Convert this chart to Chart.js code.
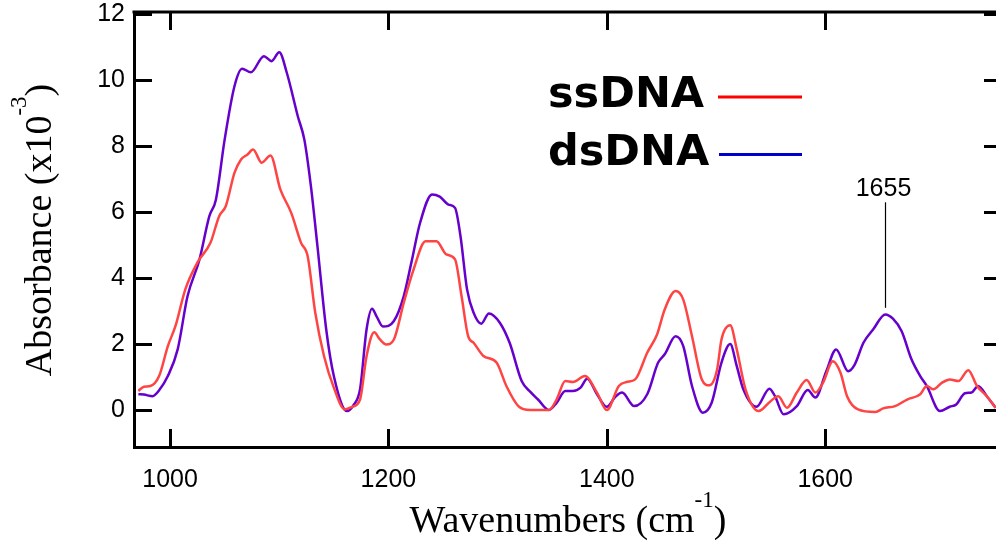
<!DOCTYPE html>
<html>
<head>
<meta charset="utf-8">
<script src="https://cdn.jsdelivr.net/npm/chart.js@4/dist/chart.umd.min.js"></script>
<style>
  html, body { margin: 0; padding: 0; background: #fff; }
  #wrap { width: 996px; height: 542px; position: relative; }
</style>
</head>
<body>
<div id="wrap"><canvas id="grafico" width="996" height="542"></canvas></div>
<script>
const ssWaven = [971, 976, 982, 990, 998, 1005, 1014, 1025, 1037, 1045, 1051, 1059, 1065, 1071, 1076, 1084, 1092, 1101, 1111, 1120, 1126, 1133, 1141, 1150, 1160, 1167, 1174, 1180, 1187, 1192, 1198, 1205, 1214, 1223, 1234, 1244, 1253, 1261, 1267, 1273, 1278, 1287, 1299, 1308, 1319, 1330, 1347, 1354, 1362, 1369, 1380, 1391, 1400, 1411, 1418, 1426, 1437, 1446, 1453, 1463, 1470, 1478, 1487, 1494, 1501, 1505, 1513, 1519, 1527, 1539, 1550, 1557, 1565, 1574, 1583, 1591, 1598, 1607, 1614, 1620, 1630, 1646, 1653, 1664, 1675, 1687, 1693, 1699, 1707, 1714, 1722, 1731, 1739, 1748, 1756];
const ssAbs   = [0.58, 0.71, 0.73, 1.03, 1.94, 2.55, 3.66, 4.47, 5.07, 5.88, 6.18, 7.19, 7.60, 7.75, 7.90, 7.50, 7.72, 6.69, 5.98, 5.07, 4.67, 2.95, 1.64, 0.68, 0.02, 0.10, 0.32, 1.64, 2.36, 2.15, 1.99, 2.14, 3.25, 4.26, 5.12, 5.12, 4.72, 4.57, 3.45, 2.24, 2.04, 1.64, 1.44, 0.73, 0.12, 0.0, 0.0, 0.32, 0.88, 0.85, 1.03, 0.53, 0.0, 0.73, 0.85, 0.93, 1.74, 2.29, 3.05, 3.61, 3.35, 2.24, 0.93, 0.75, 1.23, 2.14, 2.57, 1.84, 0.63, -0.03, 0.27, 0.42, 0.07, 0.53, 0.91, 0.53, 0.83, 1.48, 1.13, 0.42, 0.02, -0.06, 0.05, 0.12, 0.32, 0.48, 0.73, 0.63, 0.83, 0.93, 0.88, 1.21, 0.73, 0.42, 0.07];

const dsWaven = [971, 976, 984, 990, 998, 1007, 1016, 1027, 1036, 1042, 1050, 1059, 1066, 1074, 1086, 1093, 1100, 1107, 1117, 1123, 1129, 1135, 1143, 1150, 1162, 1168, 1174, 1180, 1185, 1189, 1195, 1205, 1214, 1221, 1229, 1240, 1247, 1255, 1261, 1266, 1272, 1278, 1285, 1292, 1302, 1311, 1322, 1330, 1337, 1347, 1354, 1362, 1369, 1376, 1382, 1391, 1400, 1408, 1414, 1425, 1437, 1447, 1453, 1463, 1470, 1478, 1488, 1496, 1505, 1513, 1519, 1525, 1537, 1549, 1554, 1562, 1574, 1584, 1591, 1601, 1610, 1621, 1627, 1635, 1644, 1655, 1662, 1670, 1679, 1687, 1693, 1705, 1714, 1720, 1728, 1734, 1740, 1748, 1756];
const dsAbs   = [0.48, 0.47, 0.42, 0.60, 1.03, 1.84, 3.45, 4.57, 5.88, 6.38, 8.20, 9.82, 10.35, 10.24, 10.73, 10.58, 10.85, 10.22, 8.91, 8.20, 6.79, 4.97, 2.45, 1.03, -0.03, 0.15, 0.63, 2.45, 3.07, 2.85, 2.53, 2.70, 3.45, 4.47, 5.68, 6.54, 6.47, 6.23, 6.13, 5.27, 3.66, 2.95, 2.62, 2.93, 2.65, 2.04, 0.88, 0.55, 0.32, 0.0, 0.22, 0.58, 0.58, 0.68, 0.95, 0.48, 0.10, 0.41, 0.53, 0.12, 0.48, 1.44, 1.69, 2.24, 1.94, 0.73, -0.08, 0.22, 1.44, 2.00, 1.33, 0.63, 0.10, 0.65, 0.42, -0.13, 0.12, 0.61, 0.38, 1.18, 1.84, 1.18, 1.38, 2.04, 2.45, 2.90, 2.77, 2.39, 1.54, 1.03, 0.73, -0.03, 0.10, 0.17, 0.51, 0.53, 0.73, 0.42, 0.07];

const xTicks = [1000, 1200, 1400, 1600];
const yTicks = [0, 2, 4, 6, 8, 10, 12];
const seriesLabels = ["ssDNA", "dsDNA"];

// marcação do pico
const picoX = 1655;
const picoLinhaDe = 3.1, picoLinhaAte = 6.3, picoTextoY = 6.75;

const corSS = "#ff4444", corDS = "#6600cc";
const corLegSS = "#ff0000", corLegDS = "#0000cc";

function pontos(xs, ys) { return xs.map((v, i) => ({ x: v, y: ys[i] })); }

function linha(ctx, x1, y1, x2, y2) {
  ctx.beginPath(); ctx.moveTo(x1, y1); ctx.lineTo(x2, y2); ctx.stroke();
}

// desenha moldura, ticks internos, legenda, titulos e marcação
const decoracao = {
  id: "decoracao",
  afterDraw(chart) {
    const { ctx, chartArea: a, scales: { x, y } } = chart;
    ctx.save();
    ctx.strokeStyle = "#000"; ctx.lineWidth = 3; ctx.lineCap = "butt";
    linha(ctx, a.left - 1.5, a.top, a.right, a.top);
    xTicks.forEach(v => {
      const px = Math.round(x.getPixelForValue(v)) + 0.5;
      linha(ctx, px, a.bottom, px, a.bottom - 18);
      linha(ctx, px, a.top, px, a.top + 18);
    });
    yTicks.forEach(v => {
      const py = Math.round(y.getPixelForValue(v)) + 0.5;
      linha(ctx, a.left, py, a.left + 18, py);
      linha(ctx, a.right - 12, py, a.right, py);
    });

    // legenda
    ctx.font = "bold 43px 'DejaVu Sans'";
    ctx.fillStyle = "#000"; ctx.textBaseline = "alphabetic"; ctx.textAlign = "left";
    ctx.fillText(seriesLabels[0], 548, 107);
    ctx.fillText(seriesLabels[1], 548, 165);
    ctx.lineWidth = 3;
    ctx.strokeStyle = corLegSS; linha(ctx, 718, 97, 802, 97);
    ctx.strokeStyle = corLegDS; linha(ctx, 719, 154.5, 802, 154.5);

    // marcação 1655
    const mx = Math.round(x.getPixelForValue(picoX)) + 0.5;
    ctx.strokeStyle = "#000"; ctx.lineWidth = 1.2;
    linha(ctx, mx, y.getPixelForValue(picoLinhaDe), mx, y.getPixelForValue(picoLinhaAte));
    ctx.font = "25px 'Liberation Sans'";
    ctx.textAlign = "center"; ctx.textBaseline = "alphabetic";
    ctx.fillText(String(picoX), mx - 2, y.getPixelForValue(picoTextoY) + 9);

    // titulos com expoente
    const titulo = (partes, cx, cy, rot) => {
      ctx.save();
      ctx.translate(cx, cy); ctx.rotate(rot);
      let total = 0;
      partes.forEach(p => { ctx.font = p.f; total += ctx.measureText(p.t).width; });
      let px = -total / 2;
      ctx.textAlign = "left"; ctx.textBaseline = "alphabetic";
      partes.forEach(p => {
        ctx.font = p.f; ctx.fillText(p.t, px, -(p.up || 0));
        px += ctx.measureText(p.t).width;
      });
      ctx.restore();
    };
    const serif = "38px 'Liberation Serif'", sup = "23px 'Liberation Serif'";
    titulo([{ t: "Wavenumbers (cm", f: serif }, { t: "-1", f: sup, up: 25 }, { t: ")", f: serif }], 568, 532, 0);
    titulo([{ t: "Absorbance (x10", f: serif }, { t: "-3", f: sup, up: 25 }, { t: ")", f: serif }], 51, 230, -Math.PI / 2);
    ctx.restore();
  }
};

new Chart(document.getElementById("grafico"), {
  type: "line",
  data: {
    datasets: [
      { label: seriesLabels[0], data: pontos(ssWaven, ssAbs), borderColor: corSS, borderWidth: 2.5,
        pointRadius: 0, cubicInterpolationMode: "monotone", fill: false },
      { label: seriesLabels[1], data: pontos(dsWaven, dsAbs), borderColor: corDS, borderWidth: 2.5,
        pointRadius: 0, cubicInterpolationMode: "monotone", fill: false }
    ]
  },
  options: {
    responsive: false, animation: false,
    layout: { padding: { top: 12, right: 0, left: 0, bottom: 0 } },
    plugins: { legend: { display: false }, tooltip: { enabled: false } },
    scales: {
      x: {
        type: "linear", min: 967, max: 1756.4,
        afterBuildTicks: s => { s.ticks = xTicks.map(v => ({ value: v })); },
        afterFit: s => { s.height = 95; s.paddingLeft = 0; s.paddingRight = 0; },
        grid: { display: false, drawTicks: false },
        border: { display: true, color: "#000", width: 3 },
        ticks: { color: "#000", padding: 18, maxRotation: 0, callback: v => String(v),
                 font: { family: "'Liberation Sans'", size: 25 } }
      },
      y: {
        min: -1.12, max: 12.07,
        afterBuildTicks: s => { s.ticks = yTicks.map(v => ({ value: v })); },
        afterFit: s => { s.width = 134; s.paddingTop = 0; s.paddingBottom = 0; },
        grid: { display: false, drawTicks: false },
        border: { display: true, color: "#000", width: 3 },
        ticks: { color: "#000", padding: 9, font: { family: "'Liberation Sans'", size: 25 } }
      }
    }
  },
  plugins: [decoracao]
});
</script>
</body>
</html>
